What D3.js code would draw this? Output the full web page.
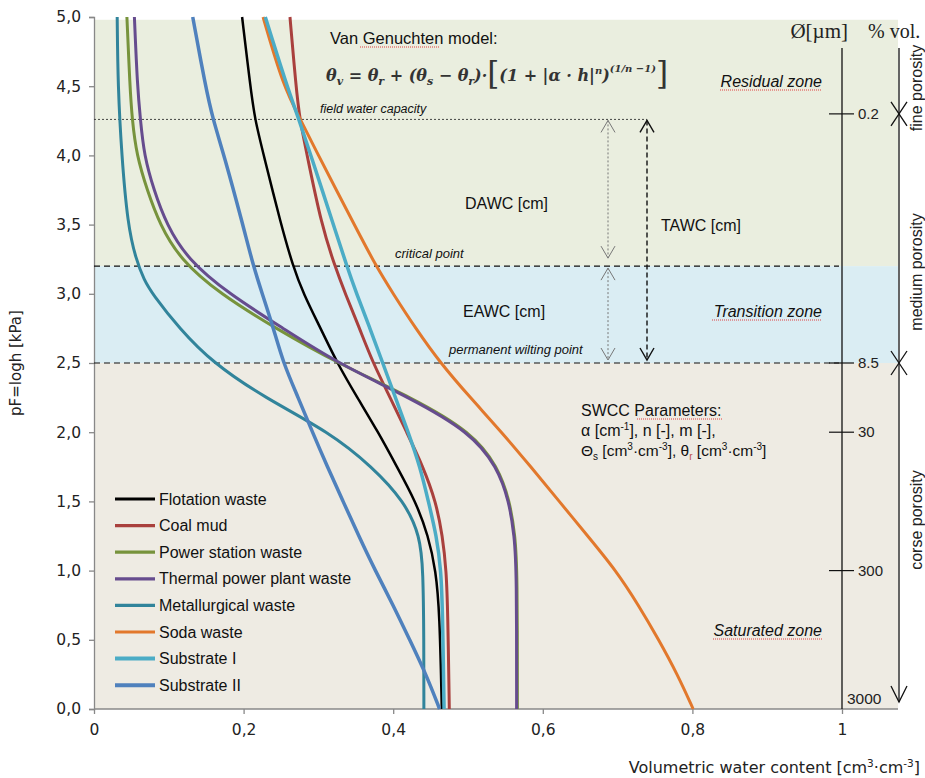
<!DOCTYPE html>
<html><head><meta charset="utf-8">
<script src="https://cdn.jsdelivr.net/npm/d3@7"></script>
<style>body{margin:0;background:#fff;} svg{display:block;}</style>
</head><body>
<svg id="c" width="925" height="778"></svg>
<script>
// ---------------- data ----------------
const pFTicks = [0, 0.5, 1, 1.5, 2, 2.5, 3, 3.5, 4, 4.5, 5];
const thetaTicks = [0, 0.2, 0.4, 0.6, 0.8, 1];
const seriesNames = ["Flotation waste", "Coal mud", "Power station waste", "Thermal power plant waste",
  "Metallurgical waste", "Soda waste", "Substrate I", "Substrate II"];
// [pF, volumetric water content]
const flotationWaste = [[5.0,0.198],[4.5,0.209],[4.26,0.215],[4.0,0.227],[3.5,0.250],[3.2,0.266],[3.0,0.280],[2.75,0.303],[2.5,0.325],[2.25,0.352],[2.0,0.380],[1.75,0.405],[1.5,0.430],[1.25,0.447],[1.0,0.457],[0.7,0.462],[0,0.465]];
const coalMud = [[5.0,0.262],[4.5,0.270],[4.26,0.275],[4.0,0.285],[3.5,0.304],[3.2,0.322],[3.0,0.336],[2.75,0.355],[2.5,0.373],[2.25,0.396],[2.0,0.418],[1.75,0.440],[1.5,0.457],[1.25,0.466],[1.0,0.471],[0.7,0.473],[0,0.475]];
const powerStationWaste = [[5.0,0.044],[4.5,0.048],[4.26,0.051],[4.0,0.057],[3.75,0.071],[3.5,0.088],[3.25,0.115],[3.0,0.168],[2.75,0.243],[2.5,0.325],[2.25,0.425],[2.0,0.505],[1.75,0.540],[1.5,0.556],[1.25,0.563],[1.0,0.566],[0,0.566]];
const thermalPowerPlantWaste = [[5.0,0.054],[4.5,0.058],[4.26,0.062],[4.0,0.067],[3.75,0.080],[3.5,0.097],[3.25,0.125],[3.0,0.180],[2.75,0.253],[2.5,0.325],[2.25,0.422],[2.0,0.503],[1.75,0.539],[1.5,0.555],[1.25,0.562],[1.0,0.565],[0,0.565]];
const metallurgicalWaste = [[5.0,0.031],[4.5,0.032],[4.0,0.037],[3.5,0.045],[3.25,0.056],[3.1,0.067],[3.0,0.078],[2.75,0.114],[2.5,0.159],[2.25,0.228],[2.0,0.315],[1.75,0.372],[1.5,0.415],[1.25,0.436],[1.0,0.440],[0.5,0.441],[0,0.441]];
const sodaWaste = [[5.0,0.226],[4.5,0.253],[4.26,0.276],[4.0,0.300],[3.75,0.324],[3.5,0.348],[3.2,0.377],[3.0,0.400],[2.75,0.430],[2.5,0.463],[2.25,0.503],[2.0,0.545],[1.75,0.584],[1.5,0.622],[1.25,0.660],[1.0,0.698],[0.75,0.728],[0.5,0.755],[0.25,0.780],[0,0.801]];
const substrateI = [[5.0,0.229],[4.5,0.258],[4.26,0.274],[4.0,0.290],[3.5,0.320],[3.2,0.338],[3.0,0.351],[2.75,0.369],[2.5,0.386],[2.25,0.403],[2.0,0.420],[1.75,0.436],[1.5,0.447],[1.25,0.458],[1.0,0.464],[0.7,0.466],[0,0.468]];
const substrateII = [[5.0,0.132],[4.5,0.149],[4.26,0.159],[4.0,0.174],[3.5,0.199],[3.2,0.213],[3.0,0.225],[2.75,0.240],[2.5,0.253],[2.25,0.273],[2.0,0.292],[1.75,0.312],[1.5,0.333],[1.25,0.354],[1.0,0.376],[0.75,0.400],[0.5,0.422],[0.25,0.444],[0,0.462]];
const seriesValues = [flotationWaste, coalMud, powerStationWaste, thermalPowerPlantWaste, metallurgicalWaste, sodaWaste, substrateI, substrateII];

const fieldCapacityPF = 4.26, criticalPointPF = 3.2, wiltingPointPF = 2.5;
const poreLabels = ["0.2", "8.5", "30", "300"];
const porePF = [4.3, 2.5, 2.0, 1.0];
const poreBottomLabel = "3000";
const porosityLabels = ["fine porosity", "medium porosity", "corse porosity"];

// ---------------- styles ----------------
const colors = ["#000000", "#A9403D", "#77933C", "#664C8E", "#31849B", "#E2782C", "#4BACC6", "#4F81BD"];
const widths = [2.5, 3, 3, 3, 3, 3, 3.5, 3.5];

const svg = d3.select("#c");
const x = d3.scaleLinear().domain([0, 1]).range([94, 842]);
const y = d3.scaleLinear().domain([0, 5]).range([709, 17]);
const bgRight = 898;

// backgrounds
svg.append("rect").attr("x", x(0)).attr("y", y(4.98)).attr("width", bgRight - x(0)).attr("height", y(criticalPointPF) - y(4.98)).attr("fill", "#EAEEDF");
svg.append("rect").attr("x", x(0)).attr("y", y(criticalPointPF)).attr("width", bgRight - x(0)).attr("height", y(wiltingPointPF) - y(criticalPointPF)).attr("fill", "#DAEDF3");
svg.append("rect").attr("x", x(0)).attr("y", y(wiltingPointPF)).attr("width", bgRight - x(0)).attr("height", y(0) - y(wiltingPointPF)).attr("fill", "#EEEBE3");

// axes
const yAxis = d3.axisLeft(y).tickValues(pFTicks).tickSize(5).tickPadding(8).tickFormat(d => d3.format(".1f")(d).replace(".", ","));
const gy = svg.append("g").attr("transform", `translate(${x(0)},0)`).call(yAxis);
const xAxis = d3.axisBottom(x).tickValues(thetaTicks).tickSize(5).tickPadding(10).tickFormat(d => d === 0 ? "0" : d === 1 ? "1" : d3.format(".1f")(d).replace(".", ","));
const gx = svg.append("g").attr("transform", `translate(0,${y(0)})`).call(xAxis);
[gy, gx].forEach(g => {
  g.selectAll("path").attr("stroke", "#888").attr("stroke-width", 1.3);
  g.selectAll("line").attr("stroke", "#888").attr("stroke-width", 1.3);
  g.selectAll("text").attr("font-family", "DejaVu Sans").attr("font-size", 15.5).attr("fill", "#222");
});
gx.select(".domain").attr("d", `M${x(0)},0H${bgRight}`);

// axis titles
svg.append("text").attr("transform", `translate(21,${(y(0)+y(5))/2}) rotate(-90)`).attr("text-anchor", "middle")
  .attr("font-family", "DejaVu Sans").attr("font-size", 15).attr("fill", "#222").text("pF=logh [kPa]");
const xt = svg.append("text").attr("x", 920).attr("y", 773).attr("text-anchor", "end")
  .attr("font-family", "DejaVu Sans").attr("font-size", 16).attr("fill", "#222");
xt.append("tspan").text("Volumetric water content  [cm");
xt.append("tspan").attr("font-size", 10.5).attr("dy", -6).text("3");
xt.append("tspan").attr("dy", 6).text("·cm");
xt.append("tspan").attr("font-size", 10.5).attr("dy", -6).text("-3");
xt.append("tspan").attr("dy", 6).text("]");

// reference horizontal lines
svg.append("line").attr("x1", x(0)).attr("x2", 647).attr("y1", y(fieldCapacityPF)).attr("y2", y(fieldCapacityPF))
  .attr("stroke", "#333").attr("stroke-width", 0.9).attr("stroke-dasharray", "2,2");
[criticalPointPF, wiltingPointPF].forEach(p => {
  svg.append("line").attr("x1", x(0)).attr("x2", x(1) - 3).attr("y1", y(p)).attr("y2", y(p))
    .attr("stroke", "#111").attr("stroke-width", 1.2).attr("stroke-dasharray", "6,4");
});

// curves
const line = d3.line().x(d => x(d[1])).y(d => y(d[0])).curve(d3.curveBasis);
seriesValues.forEach((s, i) => {
  svg.append("path").attr("d", line(s)).attr("fill", "none").attr("stroke", colors[i])
    .attr("stroke-width", widths[i]).attr("stroke-linejoin", "round");
});

// double arrows
function vArrow(xp, y1, y2, color, dash, w) {
  svg.append("line").attr("x1", xp).attr("x2", xp).attr("y1", y1).attr("y2", y2).attr("stroke", color)
    .attr("stroke-width", w).attr("stroke-dasharray", dash);
  const hw = 7, hh = 12;
  svg.append("path").attr("d", `M${xp-hw},${y1+hh}L${xp},${y1}L${xp+hw},${y1+hh}`).attr("fill", "none").attr("stroke", color).attr("stroke-width", w);
  svg.append("path").attr("d", `M${xp-hw},${y2-hh}L${xp},${y2}L${xp+hw},${y2-hh}`).attr("fill", "none").attr("stroke", color).attr("stroke-width", w);
}
vArrow(608, y(fieldCapacityPF) + 1, y(criticalPointPF) - 8, "#777", "2,2", 1);
vArrow(608, y(criticalPointPF) + 2, y(wiltingPointPF) - 3, "#777", "2,2", 1);
vArrow(647, y(fieldCapacityPF) + 1, y(wiltingPointPF) - 3, "#111", "5,3", 1.4);

// pore diameter axis
svg.append("line").attr("x1", x(1)).attr("x2", x(1)).attr("y1", 48).attr("y2", y(0)).attr("stroke", "#111").attr("stroke-width", 1.3);
poreLabels.forEach((t, i) => {
  svg.append("line").attr("x1", x(1) - 13).attr("x2", x(1) + 12).attr("y1", y(porePF[i])).attr("y2", y(porePF[i])).attr("stroke", "#111").attr("stroke-width", 1.2);
  svg.append("text").attr("x", x(1) + 16).attr("y", y(porePF[i]) + 5).attr("font-family", "Liberation Sans").attr("font-size", 15).attr("fill", "#222").text(t);
});
svg.append("text").attr("x", x(1) + 5).attr("y", y(0.07) + 5).attr("font-family", "Liberation Sans").attr("font-size", 15.5).attr("fill", "#222").text(poreBottomLabel);
svg.append("text").attr("x", 848).attr("y", 38).attr("text-anchor", "end").attr("font-family", "Liberation Serif").attr("font-size", 21).attr("fill", "#222").text("Ø[µm]");
svg.append("text").attr("x", 868).attr("y", 38).attr("font-family", "Liberation Serif").attr("font-size", 20).attr("fill", "#222").text("% vol.");

// porosity axis
const px = 899;
svg.append("line").attr("x1", px).attr("x2", px).attr("y1", 48).attr("y2", y(0.05)).attr("stroke", "#111").attr("stroke-width", 1.3);
svg.append("path").attr("d", `M${px-8},${y(0.05)-16}L${px},${y(0.05)}L${px+8},${y(0.05)-16}`).attr("fill", "none").attr("stroke", "#111").attr("stroke-width", 1.3);
[4.3, 2.5].forEach(p => {
  svg.append("path").attr("d", `M${px-8},${y(p)-12}L${px+8},${y(p)+12}M${px+8},${y(p)-12}L${px-8},${y(p)+12}`).attr("stroke", "#111").attr("stroke-width", 1.3);
});
const porosityCenters = [88, 272, 520];
porosityLabels.forEach((t, i) => {
  svg.append("text").attr("transform", `translate(922,${porosityCenters[i]}) rotate(-90)`).attr("text-anchor", "middle")
    .attr("font-family", "Liberation Sans").attr("font-size", 16).attr("fill", "#222").text(t);
});

// legend
const lg = svg.append("g").attr("transform", "translate(115,499)");
seriesNames.forEach((n, i) => {
  const g = lg.append("g").attr("transform", `translate(0,${i * 26.6})`);
  g.append("line").attr("x1", 0).attr("x2", 40).attr("stroke", colors[i]).attr("stroke-width", widths[i] > 3 ? 4 : 3.2);
  g.append("text").attr("x", 44).attr("y", 5.5).attr("font-family", "Liberation Sans").attr("font-size", 16).attr("fill", "#111").text(n);
});

// annotations
function txt(xp, yp, t, size, italic, anchor) {
  return svg.append("text").attr("x", xp).attr("y", yp).attr("font-family", "Liberation Sans").attr("font-size", size)
    .attr("font-style", italic ? "italic" : "normal").attr("text-anchor", anchor || "start").attr("fill", "#111").text(t);
}
function squiggle(x1, x2, yp) {
  svg.append("line").attr("x1", x1).attr("x2", x2).attr("y1", yp).attr("y2", yp).attr("stroke", "#E04040").attr("stroke-width", 1).attr("stroke-dasharray", "1,1");
}
txt(330, 44, "Van Genuchten model:", 16.5);
squiggle(360, 440, 47);
txt(320, 113, "field water capacity", 12.5, true);
txt(395, 258, "critical point", 13, true);
txt(449, 354, "permanent wilting point", 13, true);
txt(465, 209, "DAWC [cm]", 16);
txt(661, 231, "TAWC [cm]", 16);
txt(463, 317, "EAWC [cm]", 16);
txt(822, 87, "Residual zone", 16, true, "end"); squiggle(720, 822, 90);
txt(822, 317, "Transition zone", 16, true, "end"); squiggle(712, 822, 320);
txt(822, 636, "Saturated zone", 16, true, "end"); squiggle(713, 822, 639);
txt(581, 416, "SWCC Parameters:", 16); squiggle(637, 722, 419);
const p2 = txt(581, 436, "α [cm", 16);
p2.append("tspan").attr("font-size", 10).attr("dy", -6).text("-1");
p2.append("tspan").attr("dy", 6).text("], n [-], m [-],");
const p3 = txt(581, 456, "Θ", 15.5);
p3.append("tspan").attr("font-size", 10).attr("dy", 4).text("s");
p3.append("tspan").attr("dy", -4).text(" [cm");
p3.append("tspan").attr("font-size", 10).attr("dy", -6).text("3");
p3.append("tspan").attr("dy", 6).text("·cm");
p3.append("tspan").attr("font-size", 10).attr("dy", -6).text("-3");
p3.append("tspan").attr("dy", 6).text("], θ");
p3.append("tspan").attr("font-size", 10).attr("dy", 4).attr("fill", "#C0504D").text("r");
p3.append("tspan").attr("dy", -4).text(" [cm");
p3.append("tspan").attr("font-size", 10).attr("dy", -6).text("3");
p3.append("tspan").attr("dy", 6).text("·cm");
p3.append("tspan").attr("font-size", 10).attr("dy", -6).text("-3");
p3.append("tspan").attr("dy", 6).text("]");

// formula
const f = svg.append("text").attr("x", 326).attr("y", 81).attr("font-family", "DejaVu Serif")
  .attr("font-style", "italic").attr("font-weight", "bold").attr("font-size", 16).attr("fill", "#333");
const pieces = [["θ",0,null],["v",4,11],[" = θ",-4,null],["r",4,11],[" + (θ",-4,null],["s",4,11],[" − θ",-4,null],["r",4,11],[")·",-4,null]];
pieces.forEach(p => { const t = f.append("tspan").attr("dy", p[1]).text(p[0]); if (p[2]) t.attr("font-size", p[2]); });
f.append("tspan").attr("font-size", 31).attr("font-weight", "normal").attr("font-style", "normal").attr("dy", 3).text("[");
f.append("tspan").attr("dy", -3).text("(1 + |α · h|");
f.append("tspan").attr("font-size", 10).attr("dy", -7).text("n");
f.append("tspan").attr("dy", 7).text(")");
f.append("tspan").attr("font-size", 10).attr("dy", -9).text("(1/n −1)");
f.append("tspan").attr("font-size", 31).attr("font-weight", "normal").attr("font-style", "normal").attr("dy", 12).text("]");
</script>
</body></html>
